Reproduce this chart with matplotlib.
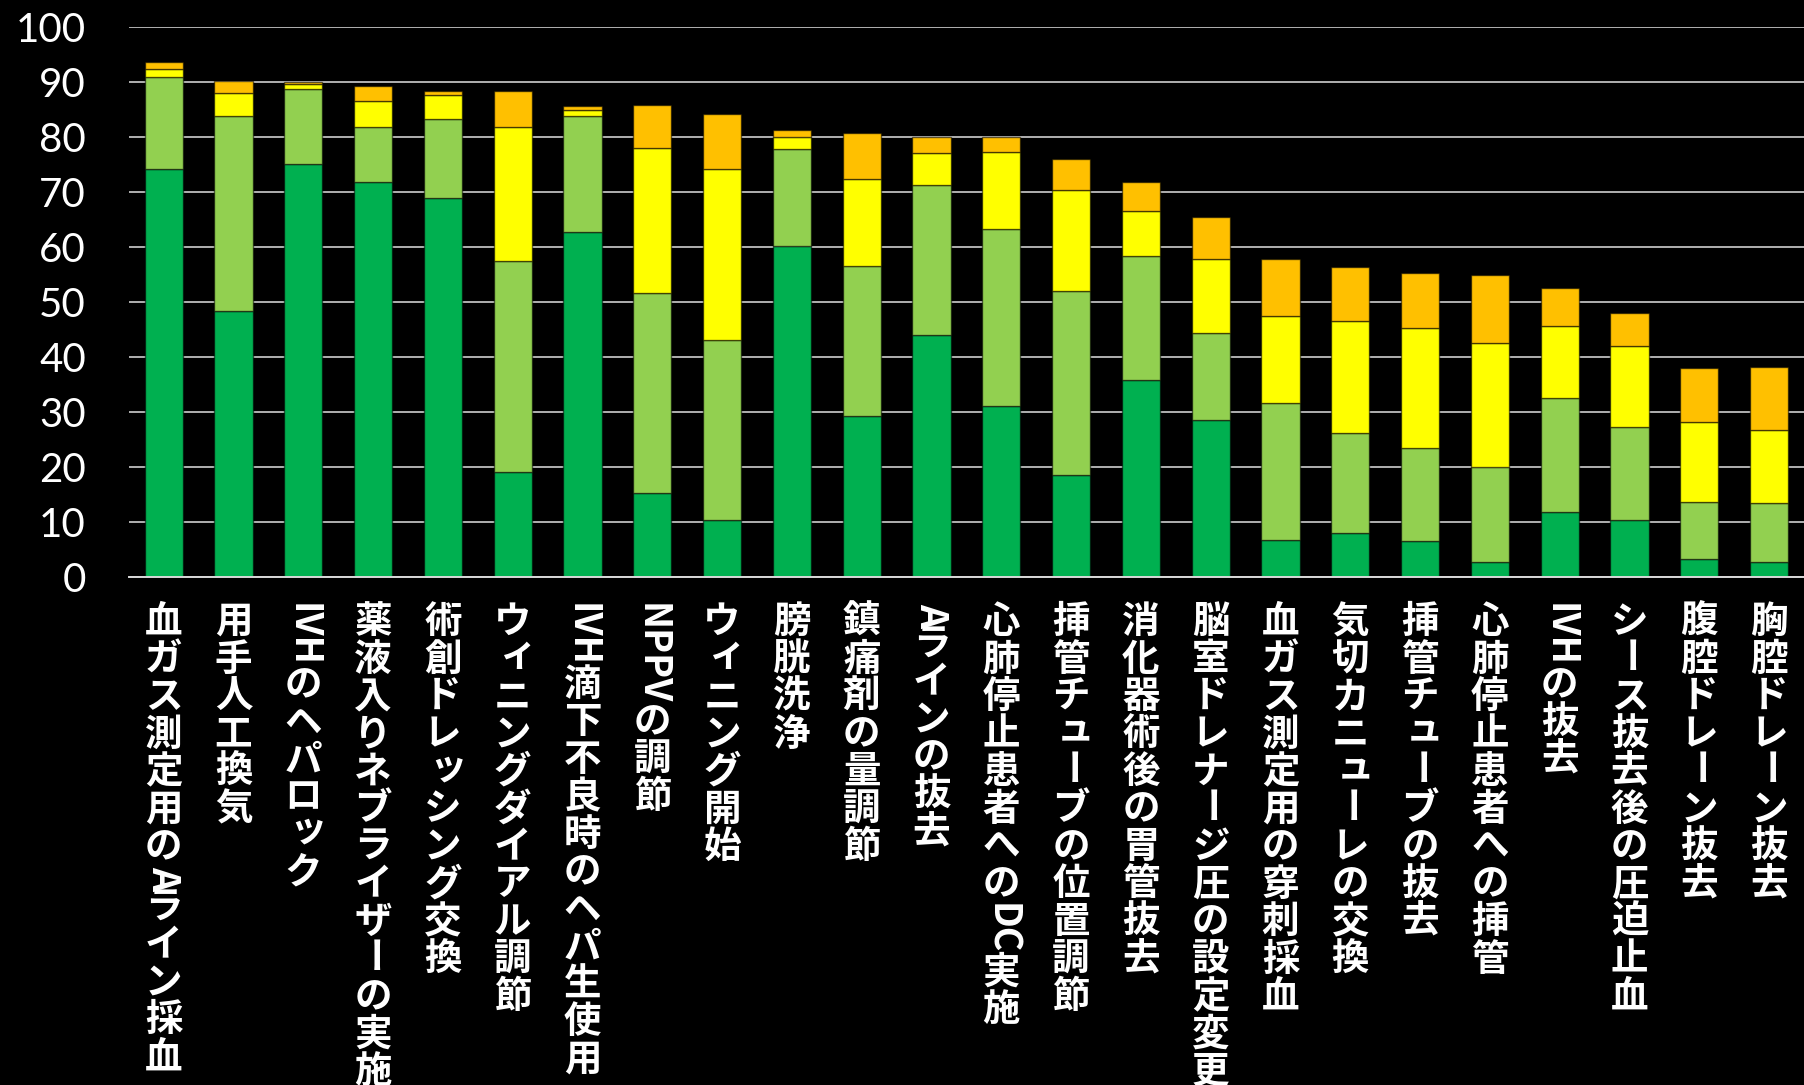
import matplotlib
matplotlib.use('Agg')
import matplotlib.pyplot as plt
import numpy as np

# 項目
labels = ['血ガス測定用のAライン採血', '用手人工換気', 'IVHのヘパロック', '薬液入りネブライザーの実施',
          '術創ドレッシング交換', 'ウィニングダイアル調節', 'IVH滴下不良時のヘパ生使用', 'NPPVの調節',
          'ウィニング開始', '膀胱洗浄', '鎮痛剤の量調節', 'Aラインの抜去', '心肺停止患者へのDC実施',
          '挿管チューブの位置調節', '消化器術後の胃管抜去', '脳室ドレナージ圧の設定変更',
          '血ガス測定用の穿刺採血', '気切カニューレの交換', '挿管チューブの抜去', '心肺停止患者への挿管',
          'IVHの抜去', 'シース抜去後の圧迫止血', '腹腔ドレーン抜去', '胸腔ドレーン抜去']

# 4つの系列 (下から)
dark_green = [74.1, 48.3, 75.1, 71.8, 68.8, 19.0, 62.7, 15.3, 10.4, 60.2, 29.3, 43.9,
              31.1, 18.5, 35.8, 28.5, 6.7, 8.0, 6.6, 2.7, 11.9, 10.4, 3.2, 2.7]
light_green = [16.7, 35.4, 13.5, 10.0, 14.5, 38.4, 21.0, 36.3, 32.6, 17.6, 27.2, 27.4,
               32.2, 33.5, 22.6, 15.9, 24.9, 18.2, 16.9, 17.2, 20.6, 16.8, 10.4, 10.8]
yellow = [1.5, 4.2, 0.9, 4.7, 4.3, 24.4, 1.1, 26.3, 31.1, 2.2, 15.8, 5.7,
          13.9, 18.4, 8.1, 13.4, 15.8, 20.3, 21.8, 22.6, 13.1, 14.8, 14.5, 13.2]
orange = [1.2, 2.3, 0.4, 2.8, 0.8, 6.6, 0.8, 7.8, 10.0, 1.2, 8.4, 2.9,
          2.7, 5.5, 5.2, 7.6, 10.3, 9.9, 9.9, 12.4, 7.0, 5.9, 9.9, 11.5]

yticks = [0, 10, 20, 30, 40, 50, 60, 70, 80, 90, 100]

series = [dark_green, light_green, yellow, orange]
colors = ['#00B050', '#92D050', '#FFFF00', '#FFC000']

plt.rcParams['font.family'] = ['Noto Sans CJK JP', 'DejaVu Sans']

W, H = 1804, 1085
fig = plt.figure(figsize=(W / 100, H / 100), dpi=100, facecolor='black')
ax = fig.add_axes([0.0714, 0.4682, 0.9286, 0.5072])
ax.set_facecolor('black')

x = np.arange(len(labels))
bottom = np.zeros(len(labels))
for vals, c in zip(series, colors):
    ax.bar(x, vals, 0.55, bottom=bottom, color=c, edgecolor=(0, 0, 0, 0.55), linewidth=1.0, zorder=3)
    bottom = bottom + np.array(vals)

ax.set_xlim(-0.5, len(labels) - 0.5)
ax.set_ylim(0, 100)
ax.set_yticks(yticks)
ax.set_yticklabels([str(v) for v in yticks], fontsize=29, color='white', family=['Lato', 'DejaVu Sans'])
ax.tick_params(axis='y', length=0, pad=31)
ax.set_xticks([])
ax.yaxis.grid(True, color='#B0B0B0', linewidth=1.4)
ax.set_axisbelow(True)
for s in ['left', 'right', 'top']:
    ax.spines[s].set_visible(False)
ax.spines['bottom'].set_color('#D9D9D9')
ax.spines['bottom'].set_linewidth(1.4)
ax.spines['bottom'].set_zorder(4)

# 縦書きラベル
small_kana = 'ィッュャョァェォゃゅょっ'
fs = 27
em = fs * 100 / 72
renderer = fig.canvas.get_renderer()


def is_ascii(ch):
    return ord(ch) < 128


def vertical_label(xc, ytop, text):
    y = ytop
    i = 0
    while i < len(text):
        ch = text[i]
        if is_ascii(ch):
            j = i
            while j < len(text) and is_ascii(text[j]):
                j += 1
            run = text[i:j]
            t = fig.text(xc / W, (y - 3) / H, run, rotation=-90, ha='center', va='top',
                         fontsize=fs, fontweight='bold', color='white')
            bb = t.get_window_extent(renderer)
            y -= bb.height - 1
            i = j
            continue
        base = y - 0.88 * em
        if ch == 'ー':
            # 縦棒にする
            fig.text((xc - 0.38 * em) / W, (y - 0.5 * em) / H, ch, rotation=-90, rotation_mode='anchor',
                     ha='center', va='baseline', fontsize=fs, fontweight='bold', color='white')
        else:
            dx, dy = 0, 0
            if ch in small_kana:
                dx, dy = 0.13 * em, 0.13 * em
            fig.text((xc + dx) / W, (base + dy) / H, ch, ha='center', va='baseline',
                     fontsize=fs, fontweight='bold', color='white')
        y -= em
        i += 1


for i, lab in enumerate(labels):
    xd = ax.transData.transform((i, 0))[0]
    vertical_label(xd, H - 600, lab)

fig.savefig('out.png', dpi=100, facecolor='black')
